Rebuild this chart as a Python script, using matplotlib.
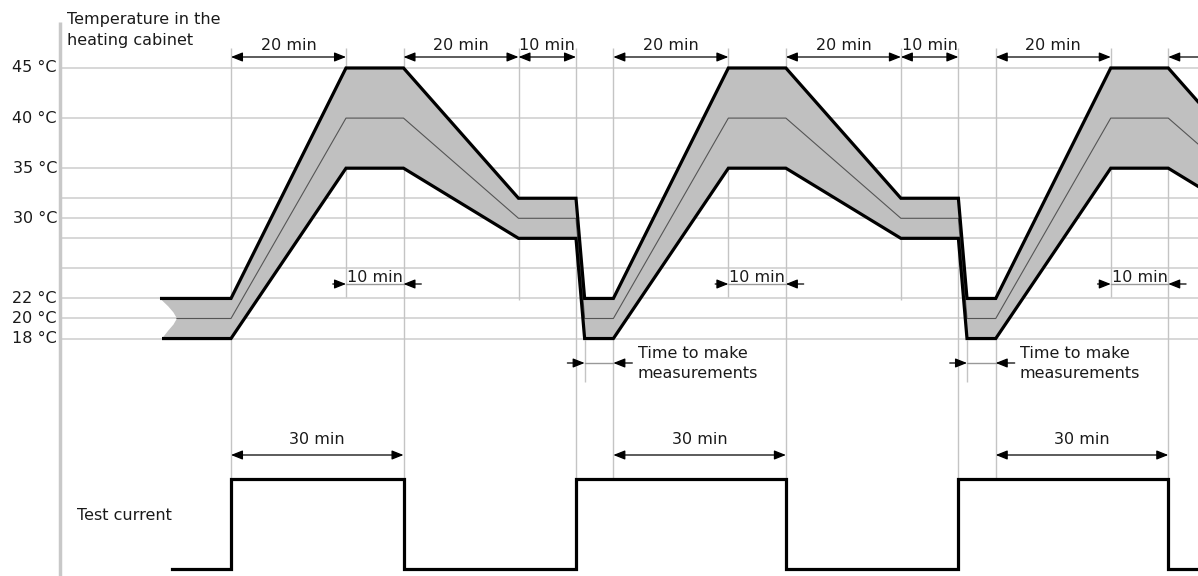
import matplotlib
matplotlib.use("Agg")
import matplotlib.pyplot as plt

plt.rcParams["font.family"] = ["DejaVu Sans"]

# temperature profile (minutes, degC) - three cycles, cut at the right edge
t_band = [0, 20, 30, 50, 60, 61.5, 66.5, 86.5, 96.5, 116.5, 126.5, 128, 133, 153, 163, 183]
upper = [22, 45, 45, 32, 32, 22, 22, 45, 45, 32, 32, 22, 22, 45, 45, 32]
middle = [20, 40, 40, 30, 30, 20, 20, 40, 40, 30, 30, 20, 20, 40, 40, 30]
lower = [18, 35, 35, 28, 28, 18, 18, 35, 35, 28, 28, 18, 18, 35, 35, 28]
start_upper, start_middle, start_lower = -12.35, -9.4, -12.0
# concave left edge of the shaded band
notch_t = [-12.0, -10.9, -10.0, -9.4, -10.0, -10.9, -12.35]
notch_T = [18, 18.8, 19.4, 20, 20.6, 21.2, 22]

grid_T = [45, 40, 35, 32, 30, 28, 25, 22, 20, 18]
label_T = [45, 40, 35, 30, 22, 20, 18]

# test current (on / off)
t_current = [-10.3, 0, 30, 60, 96.5, 126.5, 163, 200]
current = [0, 1, 0, 1, 0, 1, 0, 0]

# dimension arrows
top_spans = [(0, 20, "20 min"), (30, 50, "20 min"), (50, 60, "10 min"),
             (66.5, 86.5, "20 min"), (96.5, 116.5, "20 min"), (116.5, 126.5, "10 min"),
             (133, 153, "20 min"), (163, 183, "")]
hold_spans = [(20, 30), (86.5, 96.5), (153, 163)]
measure_spans = [(61.5, 66.5), (128, 133)]
current_spans = [(0, 30), (66.5, 96.5), (133, 163)]

full_vlines = [0, 30, 60, 66.5, 96.5, 126.5, 133, 163]
peak_vlines = [20, 86.5, 153]
cool_vlines = [50, 116.5]
measure_vlines = [61.5, 128]

TXT = "#1a1a1a"
GRID = "#d4d4d4"
VGRID = "#c4c4c4"
FS = 11.5


def tx(px):
    return (px - 231) / 5.75


def ty(px):
    return 29.5 + (223.3 - px) / 10.02


fig = plt.figure(figsize=(11.98, 5.76), dpi=100)
ax = fig.add_axes([0, 0, 1, 1])
ax.set_xlim(tx(0), tx(1198))
ax.set_ylim(ty(576), ty(0))
ax.axis("off")

ax2 = fig.add_axes([0, 0, 1, 1], sharex=ax)
ax2.set_ylim(-7 / 90, 569 / 90)
ax2.axis("off")
ax2.patch.set_visible(False)

# grid
ax.hlines(grid_T, tx(60), tx(1198), color=GRID, lw=1.3, zorder=1)
xt = ax.get_xaxis_transform()
ax.vlines(full_vlines, 1 - 479 / 576, 1 - 48 / 576, color=VGRID, lw=1, transform=xt, zorder=1)
ax.vlines(peak_vlines, 1 - 297 / 576, 1 - 48 / 576, color=VGRID, lw=1, transform=xt, zorder=1)
ax.vlines(cool_vlines, 1 - 300 / 576, 1 - 48 / 576, color=VGRID, lw=1, transform=xt, zorder=1)
ax.vlines(measure_vlines, 1 - 382 / 576, 1 - 340 / 576, color=VGRID, lw=1, transform=xt, zorder=1)
ax.plot([60 / 1198, 60 / 1198], [1 - 22 / 576, 0], color="#c8c8c8", lw=2.5,
        transform=ax.transAxes, solid_capstyle="butt", zorder=1)

for T in label_T:
    ax.text(tx(57), T, f"{T} °C", ha="right", va="center", fontsize=FS, color=TXT)

ax.text(tx(67), ty(24), "Temperature in the", ha="left", va="baseline", fontsize=FS, color=TXT)
ax.text(tx(67), ty(45), "heating cabinet", ha="left", va="baseline", fontsize=FS, color=TXT)

# band
poly_t = [start_upper] + t_band + t_band[::-1] + notch_t
poly_T = [upper[0]] + upper + lower[::-1] + notch_T
ax.fill(poly_t, poly_T, color="#c0c0c0", lw=0, zorder=2)
ax.plot([start_middle] + t_band, [middle[0]] + middle, color="#555555", lw=0.8, zorder=3)
for st, vals in ((start_upper, upper), (start_lower, lower)):
    ax.plot([st] + t_band, [vals[0]] + vals, color="black", lw=2.3,
            solid_joinstyle="miter", solid_capstyle="butt", zorder=4)

# arrows
ARROW2 = dict(arrowstyle="<|-|>,head_length=0.5,head_width=0.2", mutation_scale=14,
              color="black", lw=0.9, shrinkA=0, shrinkB=0)
ARROW1 = dict(arrowstyle="-|>,head_length=0.5,head_width=0.2", mutation_scale=14,
              color="black", lw=0.9, shrinkA=0, shrinkB=0)

y_top = ty(57)
for a, b, lab in top_spans:
    ax.annotate("", xy=(b, y_top), xytext=(a, y_top), arrowprops=ARROW2, annotation_clip=False)
    if lab:
        ax.text((a + b) / 2, ty(46), lab, ha="center", va="center", fontsize=FS, color=TXT)

y_hold = ty(284)
for a, b in hold_spans:
    ax.plot([a, b], [y_hold, y_hold], color="#999999", lw=1, zorder=3)
    ax.annotate("", xy=(a, y_hold), xytext=(a - 2.3, y_hold), arrowprops=ARROW1, annotation_clip=False)
    ax.annotate("", xy=(b, y_hold), xytext=(b + 3.1, y_hold), arrowprops=ARROW1, annotation_clip=False)
    ax.text((a + b) / 2, ty(277), "10 min", ha="center", va="center", fontsize=FS, color=TXT)

y_meas = ty(363)
for a, b in measure_spans:
    ax.plot([a, b], [y_meas, y_meas], color="#999999", lw=1, zorder=3)
    ax.annotate("", xy=(a, y_meas), xytext=(a - 3.0, y_meas), arrowprops=ARROW1, annotation_clip=False)
    ax.annotate("", xy=(b, y_meas), xytext=(b + 3.3, y_meas), arrowprops=ARROW1, annotation_clip=False)
    ax.text(b + 4.2, ty(353), "Time to make", ha="left", va="center", fontsize=FS, color=TXT)
    ax.text(b + 4.2, ty(373), "measurements", ha="left", va="center", fontsize=FS, color=TXT)

# test current
ax2.plot(t_current, current, drawstyle="steps-post", color="black", lw=2.3,
         solid_joinstyle="miter", zorder=4)
ax2.text(tx(77), (569 - 515) / 90, "Test current", ha="left", va="center", fontsize=FS, color=TXT)
y_cur = (569 - 455) / 90
for a, b in current_spans:
    ax2.annotate("", xy=(b, y_cur), xytext=(a, y_cur), arrowprops=ARROW2, annotation_clip=False)
    ax2.text((a + b) / 2, (569 - 440) / 90, "30 min", ha="center", va="center", fontsize=FS, color=TXT)

fig.savefig("out.png", dpi=100)
